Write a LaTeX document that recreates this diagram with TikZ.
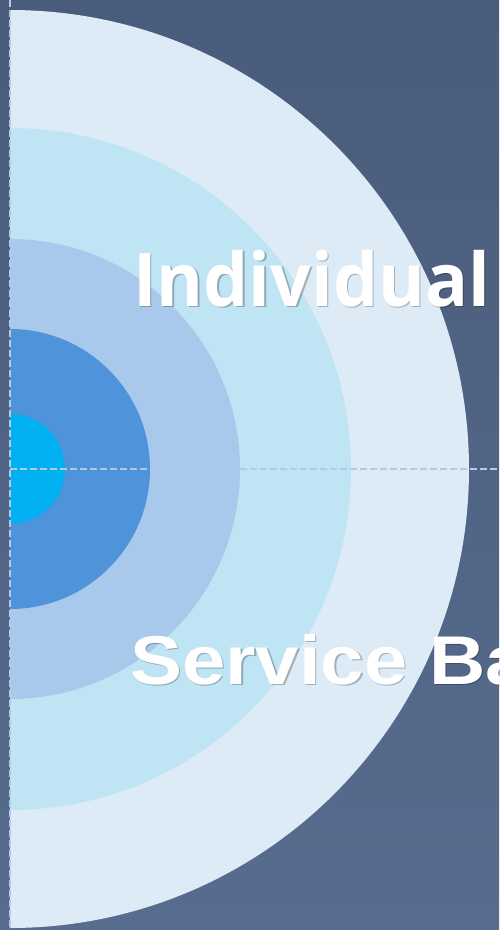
\documentclass[tikz,border=0pt]{standalone}
\usepackage{fontspec}
\setmainfont{Liberation Sans}
\newfontfamily\headfont{Open Sans}
\definecolor{bgtop}{HTML}{4A5C7B}
\definecolor{bgbot}{HTML}{576C8E}
\definecolor{ringA}{HTML}{DDEBF7}
\definecolor{ringB}{HTML}{BFE4F4}
\definecolor{ringC}{HTML}{A8C8EC}
\definecolor{ringD}{HTML}{4F93DA}
\definecolor{ringE}{HTML}{00B0F0}
\definecolor{guide}{HTML}{B4C8E8}
\tikzset{
  guideline/.style={guide, line width=1.8pt, dash pattern=on 6.5pt off 3.5pt},
  title/.style={text=white, inner sep=0pt, anchor=base west},
  shadowtext/.style={text=black, text opacity=0.25, inner sep=0pt, anchor=base west},
  upperfont/.style={font=\headfont\bfseries\fontsize{74}{74}\selectfont, xscale=0.965},
  lowerfont/.style={font=\bfseries\fontsize{69}{69}\selectfont, xscale=1.13},
}
\begin{document}
\begin{tikzpicture}[x=1pt, y=-1pt]
  \useasboundingbox (0,0) rectangle (499,930);
  \clip (0,0) rectangle (499,930);
  % background
  \shade[top color=bgtop, bottom color=bgbot] (0,0) rectangle (499,930);
  % concentric half discs, right of the axis
  \coordinate (c) at (10,469);
  \begin{scope}
    \clip (10,0) rectangle (499,930);
    \fill[ringA] (c) circle[radius=459];
    \fill[ringB] (c) circle[radius=341];
    \fill[ringC] (c) circle[radius=230];
    \fill[ringD] (c) circle[radius=140];
    \fill[ringE] (c) circle[radius=55];
  \end{scope}
  % guide lines
  \coordinate (vtop) at (10,0);
  \coordinate (vbot) at (10,930);
  \coordinate (hend) at (499,469);
  \draw[guideline] (vtop) -- (vbot);
  \draw[guideline] (c) -- (hend);
  % labels
  \node[shadowtext, upperfont] (indS) at (134.5,307.5) {Individual};
  \node[title, upperfont] (ind) at (133,306) {Individual};
  \node[shadowtext, lowerfont] (svcS) at (131.5,685.5) {Service Ba};
  \node[title, lowerfont] (svc) at (130,684) {Service Ba};
\end{tikzpicture}
\end{document}
